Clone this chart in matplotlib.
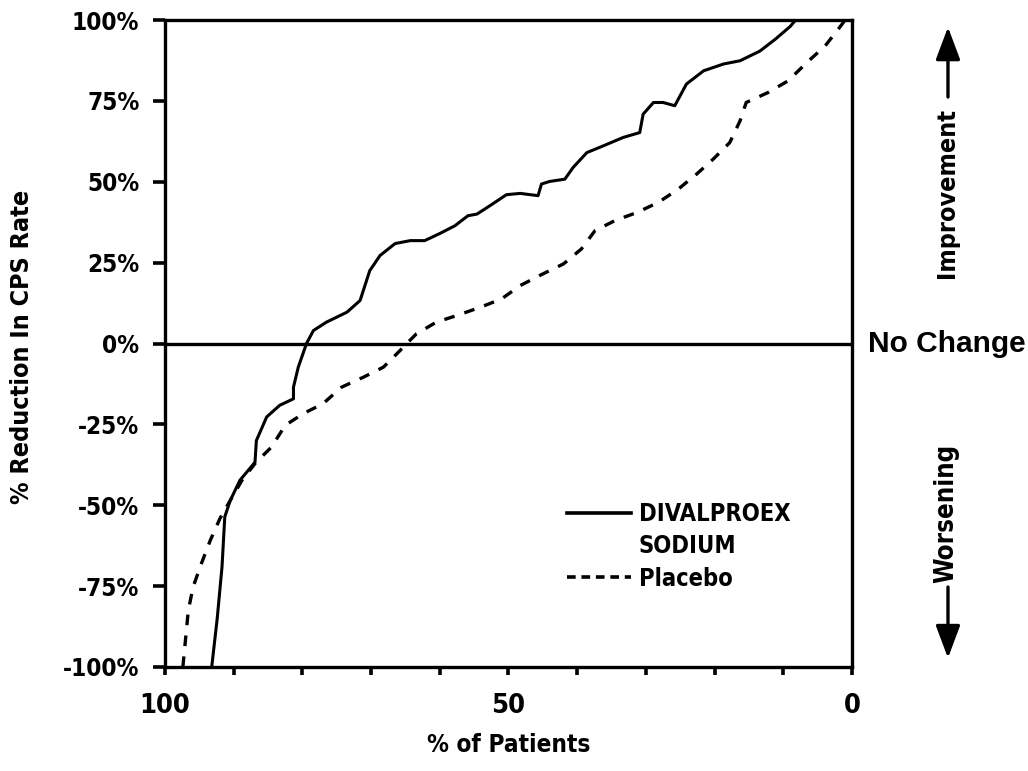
import numpy as np
import matplotlib
matplotlib.use("Agg")
import matplotlib.pyplot as plt
from matplotlib.lines import Line2D
from matplotlib.font_manager import FontProperties

# condensed bold, close to the Helvetica Condensed look of the original
def cond(size):
    return FontProperties(family='DejaVu Sans', weight='bold', stretch='condensed', size=size)

BOLD = ['Liberation Sans', 'DejaVu Sans']

# data (x = % of patients, y = % reduction)
div_x = [93.2, 92.4, 91.7, 91.3, 90.5, 89.1, 86.9, 86.7, 85.2, 83.3, 81.3, 81.3,
         80.6, 79.4, 78.4, 76.5, 73.5, 71.6, 70.2, 68.7, 66.5, 64.3, 62.2, 60.0,
         57.8, 55.9, 54.6, 52.7, 50.3, 48.3, 45.7, 45.2, 44.0, 41.8, 40.6, 38.6,
         36.2, 33.3, 30.9, 30.4, 28.9, 27.5, 25.8, 24.1, 21.6, 18.7, 16.3, 13.4,
         11.2, 9.0, 8.2]
div_y = [-100, -85, -69, -53.6, -48.5, -42.3, -36.7, -30, -22.7, -19.1, -17.1, -13.5,
         -7.3, 0, 4, 6.6, 9.7, 13.3, 22.5, 27.2, 30.9, 31.8, 31.8, 34.0,
         36.4, 39.5, 40.0, 42.6, 46.0, 46.4, 45.7, 49.3, 50.1, 50.8, 54.4, 59.0,
         61.1, 63.7, 65.2, 70.9, 74.5, 74.5, 73.5, 80.2, 84.3, 86.4, 87.4, 90.4,
         94, 98, 100]

pla_x = [97.4, 96.6, 95.9, 94.7, 93.4, 92.0, 90.5, 88.8, 86.9, 84.5, 82.5, 79.9,
         77.0, 74.3, 71.1, 68.2, 65.8, 64.8, 63.4, 60.5, 57.6, 54.1, 51.0, 48.3,
         45.2, 42.0, 39.4, 37.4, 34.5, 31.3, 28.2, 25.3, 22.6, 20.2, 17.8, 16.3,
         15.4, 12.2, 9.3, 6.6, 3.9, 1.7, 1.0]
pla_y = [-100, -82.4, -75.2, -68, -60.8, -54.1, -48.5, -42.3, -37.1, -32.0, -25.3, -21.7,
         -18.6, -13.5, -10.4, -7.3, -2.2, 0, 3, 6.6, 8.6, 11.2, 13.8, 17.9,
         21.3, 24.6, 29.2, 34.9, 38.0, 40.5, 43.6, 47.7, 52.4, 57.0, 62.1, 68.8,
         74.5, 77.6, 81.2, 86.8, 92, 98, 100]

y_ticks = [-100, -75, -50, -25, 0, 25, 50, 75, 100]
y_labels = [f"{v}%" for v in y_ticks]
x_ticks = list(range(0, 101, 10))
x_labels = ["0", "", "", "", "", "50", "", "", "", "", "100"]

fig = plt.figure(figsize=(10.28, 7.71), dpi=100)
ax = fig.add_axes([165/1028, 1 - 667/771, 687/1028, 647/771])

ax.plot(div_x, div_y, color='black', lw=2.2, solid_joinstyle='round')
ax.plot(pla_x, pla_y, color='black', lw=2.4, linestyle=(0, (3.2, 3.1)))
ax.axhline(0, color='black', lw=2.4)

ax.set_xlim(100, 0)
ax.set_ylim(-100, 100)
for s in ax.spines.values():
    s.set_linewidth(2.4)

ax.set_yticks(y_ticks)
ax.set_yticklabels(y_labels, fontproperties=cond(17.5))
ax.set_xticks(x_ticks)
ax.set_xticklabels(x_labels, fontproperties=cond(19.5))
ax.tick_params(axis='y', length=8.5, width=2.6, pad=10)
ax.tick_params(axis='x', length=6, width=2.6, pad=13)

ax.set_xlabel("% of Patients", fontproperties=cond(17.5))
ax.xaxis.set_label_coords(0.5, -0.102)
ax.set_ylabel("% Reduction In CPS Rate", fontproperties=cond(18))
ax.yaxis.set_label_coords(-0.19, 0.495)

# legend
h1 = Line2D([], [], color='black', lw=2.6)
h2 = Line2D([], [], color='none')
h3 = Line2D([], [], color='black', lw=2.6, linestyle=(0, (2.4, 1.6)))
ax.legend([h1, h2, h3], ["DIVALPROEX", "SODIUM", "Placebo"], loc='upper left',
          bbox_to_anchor=(0.585, 0.255), frameon=False, borderpad=0, borderaxespad=0,
          handlelength=2.7, handletextpad=0.35, labelspacing=0.35, prop=cond(17))

# right-hand annotations
ax.text(1.023, 0, "No Change", transform=ax.get_yaxis_transform(),
        family=BOLD, weight='bold', fontsize=21.5, ha='left', va='center')
ax.text(1.138, 0.732, "Improvement", transform=ax.transAxes, rotation=90,
        fontproperties=cond(18), ha='center', va='center')
ax.text(1.138, 0.238, "Worsening", transform=ax.transAxes, rotation=90,
        fontproperties=cond(18.5), ha='center', va='center')
arrow = dict(arrowstyle='-|>,head_length=0.8,head_width=0.3', lw=2.4,
             color='black', mutation_scale=25, shrinkA=0, shrinkB=0)
ax.annotate("", xy=(1.1397, 0.989), xytext=(1.1397, 0.881),
            xycoords='axes fraction', textcoords='axes fraction', arrowprops=arrow)
ax.annotate("", xy=(1.1397, 0.0139), xytext=(1.1397, 0.1236),
            xycoords='axes fraction', textcoords='axes fraction', arrowprops=arrow)

fig.savefig("out.png", dpi=100)
